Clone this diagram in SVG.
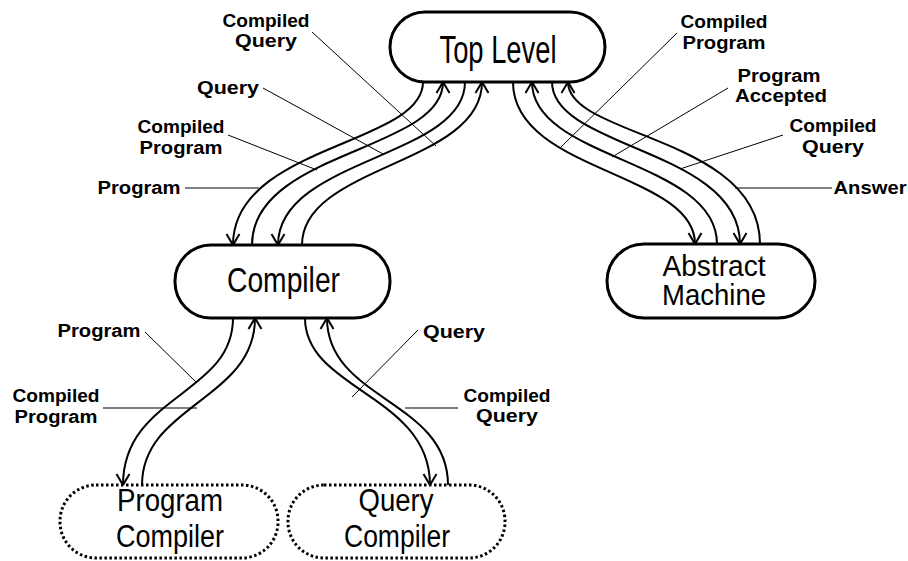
<svg xmlns="http://www.w3.org/2000/svg" width="908" height="561" viewBox="0 0 908 561">
<style>
.box{fill:#fff;stroke:#000;stroke-width:3}
.dot{fill:#fff;stroke:#000;stroke-width:3;stroke-dasharray:2.5 2.5}
.nt{font-family:"Liberation Sans Narrow","Liberation Sans",Arial,sans-serif;text-anchor:middle;fill:#000}
.lb{font-family:"Liberation Sans",Arial,sans-serif;font-weight:bold;font-size:18px;text-anchor:middle;fill:#000}
.c{fill:none;stroke:#000;stroke-width:2}
.ca{fill:none;stroke:#000;stroke-width:2;marker-end:url(#ah)}
.ld{fill:none;stroke:#000;stroke-width:1}
</style>
<defs>
<marker id="ah" markerUnits="userSpaceOnUse" markerWidth="16" markerHeight="16" refX="0" refY="0" viewBox="-12 -8 14 16" orient="auto" overflow="visible">
<path d="M-11,-6.5 L0,0 L-11,6.5" fill="none" stroke="#000" stroke-width="2"/>
</marker>
</defs>
<rect width="908" height="561" fill="#fff"/>
<g id="connectors">
<path class="ca" d="M423,82 C423,145 233,145 233,245"/>
<path class="ca" d="M252,245 C252,151 443,151 443,82"/>
<path class="ca" d="M465,82 C465,158 278,158 278,245"/>
<path class="ca" d="M302,245 C302,165 482,165 482,82"/>
<path class="ca" d="M513,82 C513,172 695,172 695,244"/>
<path class="ca" d="M717,244 C717,160 532,160 532,82"/>
<path class="ca" d="M552,82 C552,149 740,149 740,244"/>
<path class="ca" d="M760,244 C760,137 568,137 568,82"/>
<path class="ca" d="M233,318 C233,395 123,395 123,485"/>
<path class="ca" d="M142,485 C142,405 255,400 255,318"/>
<path class="ca" d="M305,318 C305,390 430,395 430,485"/>
<path class="ca" d="M448,485 C448,400 327,400 327,318"/>
<path class="ld" d="M312,32 L436,146"/>
<path class="ld" d="M263,88 L383,154"/>
<path class="ld" d="M228,135 L317,170"/>
<path class="ld" d="M185,188 L259,188"/>
<path class="ld" d="M677,33 L561,147"/>
<path class="ld" d="M728,88 L612,157"/>
<path class="ld" d="M783,135 L680,169"/>
<path class="ld" d="M832,188 L735,188"/>
<path class="ld" d="M145,332 L196,382"/>
<path class="ld" d="M103,408 L197,408"/>
<path class="ld" d="M418,330 L352,397"/>
<path class="ld" d="M458,408 L405,408"/>
</g>
<g id="top-level">
<rect class="box" x="390" y="12" width="215" height="70" rx="35" ry="35"/>
<text class="nt" x="498" y="63" font-size="38" textLength="117" lengthAdjust="spacingAndGlyphs">Top Level</text>
</g>
<g id="compiler">
<rect class="box" x="175" y="245" width="215" height="73" rx="36" ry="36"/>
<text class="nt" x="283.5" y="292" font-size="35" textLength="113" lengthAdjust="spacingAndGlyphs">Compiler</text>
</g>
<g id="abstract-machine">
<rect class="box" x="607" y="244" width="208" height="74" rx="37" ry="37"/>
<text class="nt" x="714" y="276" font-size="29" textLength="103" lengthAdjust="spacingAndGlyphs">Abstract</text>
<text class="nt" x="714" y="305" font-size="29" textLength="104" lengthAdjust="spacingAndGlyphs">Machine</text>
</g>
<g id="program-compiler">
<rect class="dot" x="60" y="485" width="218" height="73" rx="36" ry="36"/>
<text class="nt" x="170" y="511" font-size="31" textLength="106" lengthAdjust="spacingAndGlyphs">Program</text>
<text class="nt" x="170" y="547" font-size="31" textLength="108" lengthAdjust="spacingAndGlyphs">Compiler</text>
</g>
<g id="query-compiler">
<rect class="dot" x="288" y="485" width="217" height="73" rx="36" ry="36"/>
<text class="nt" x="396" y="511" font-size="31" textLength="75" lengthAdjust="spacingAndGlyphs">Query</text>
<text class="nt" x="397" y="547" font-size="31" textLength="106" lengthAdjust="spacingAndGlyphs">Compiler</text>
</g>
<g id="labels">
<text class="lb" x="266" y="27" textLength="87" lengthAdjust="spacingAndGlyphs">Compiled</text>
<text class="lb" x="266" y="47" textLength="62" lengthAdjust="spacingAndGlyphs">Query</text>
<text class="lb" x="228" y="94" textLength="62" lengthAdjust="spacingAndGlyphs">Query</text>
<text class="lb" x="181" y="133" textLength="87" lengthAdjust="spacingAndGlyphs">Compiled</text>
<text class="lb" x="181" y="154" textLength="83" lengthAdjust="spacingAndGlyphs">Program</text>
<text class="lb" x="139" y="194" textLength="83" lengthAdjust="spacingAndGlyphs">Program</text>
<text class="lb" x="724" y="28" textLength="87" lengthAdjust="spacingAndGlyphs">Compiled</text>
<text class="lb" x="724" y="49" textLength="83" lengthAdjust="spacingAndGlyphs">Program</text>
<text class="lb" x="779" y="82" textLength="83" lengthAdjust="spacingAndGlyphs">Program</text>
<text class="lb" x="781" y="102" textLength="92" lengthAdjust="spacingAndGlyphs">Accepted</text>
<text class="lb" x="833" y="132" textLength="87" lengthAdjust="spacingAndGlyphs">Compiled</text>
<text class="lb" x="833" y="153" textLength="62" lengthAdjust="spacingAndGlyphs">Query</text>
<text class="lb" x="870" y="194" textLength="73" lengthAdjust="spacingAndGlyphs">Answer</text>
<text class="lb" x="99" y="337" textLength="83" lengthAdjust="spacingAndGlyphs">Program</text>
<text class="lb" x="56" y="402" textLength="87" lengthAdjust="spacingAndGlyphs">Compiled</text>
<text class="lb" x="56" y="423" textLength="83" lengthAdjust="spacingAndGlyphs">Program</text>
<text class="lb" x="454" y="338" textLength="62" lengthAdjust="spacingAndGlyphs">Query</text>
<text class="lb" x="507" y="402" textLength="87" lengthAdjust="spacingAndGlyphs">Compiled</text>
<text class="lb" x="507" y="422" textLength="62" lengthAdjust="spacingAndGlyphs">Query</text>
</g>
</svg>
